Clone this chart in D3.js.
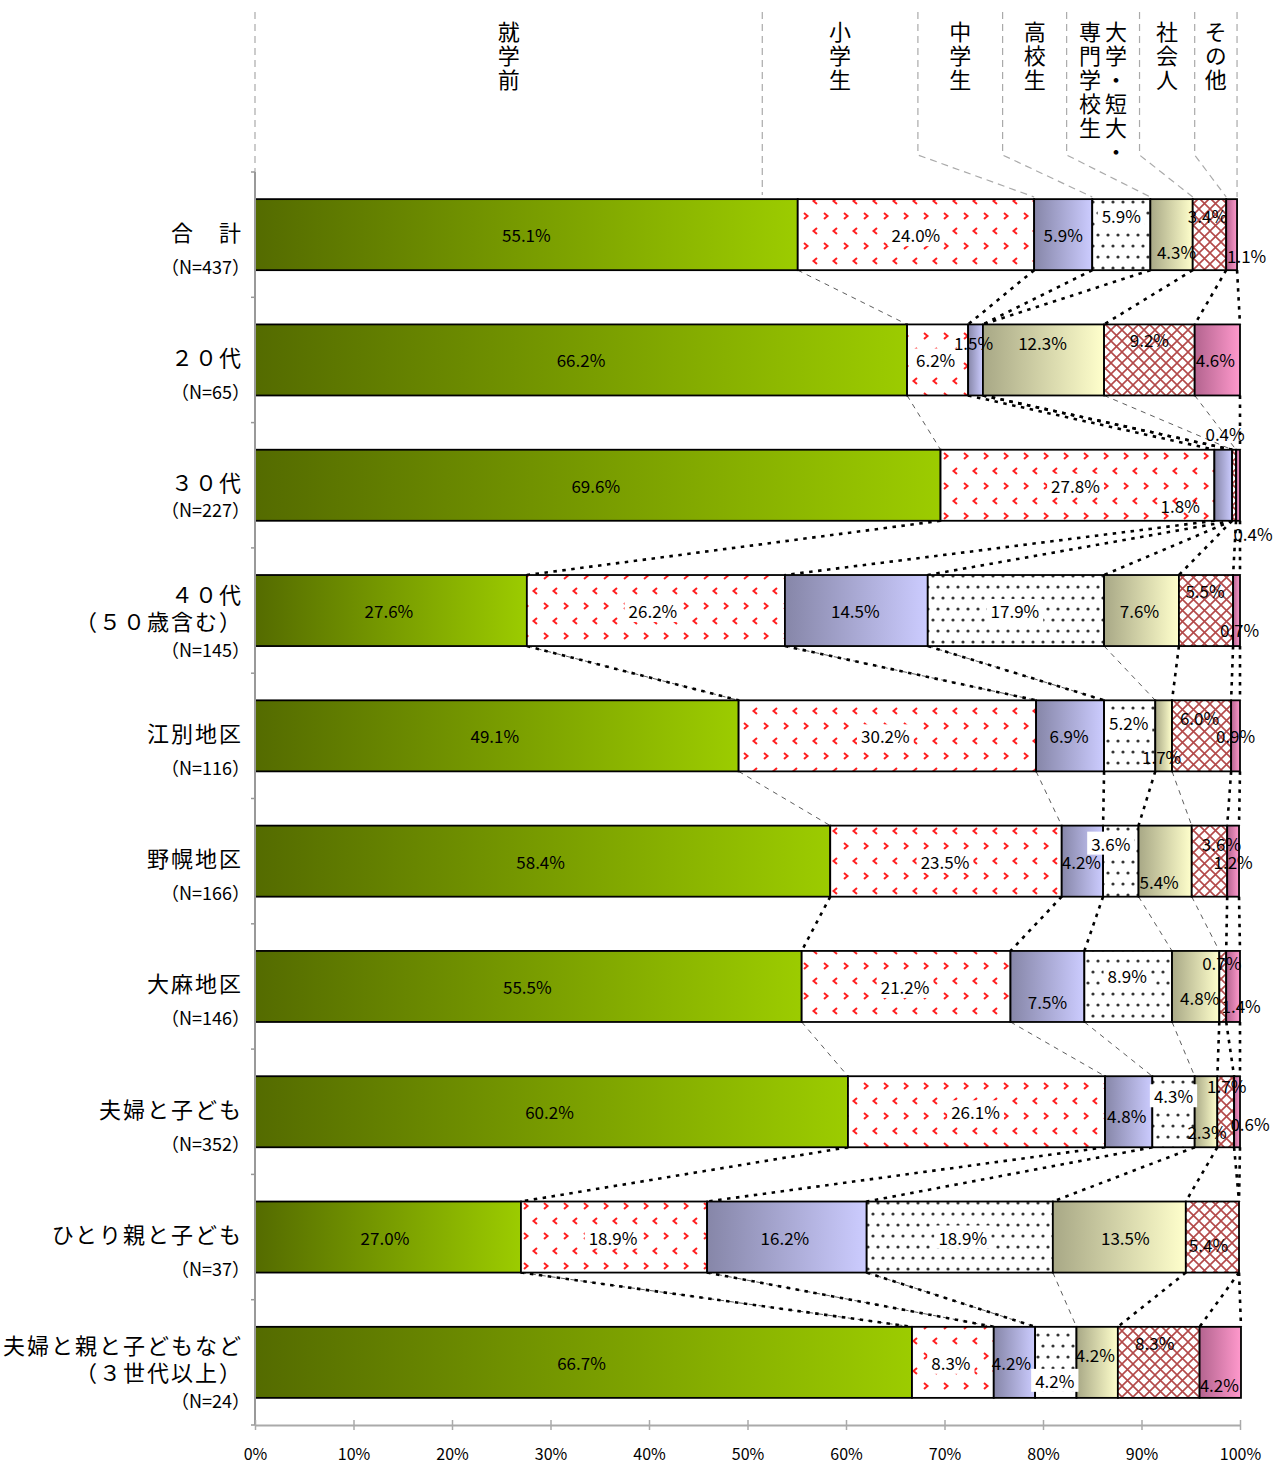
<!DOCTYPE html>
<html><head><meta charset="utf-8">
<script src="https://cdn.jsdelivr.net/npm/d3@7"></script>
<style>
body{margin:0;background:#fff;}
text{font-family:"Noto Sans CJK JP","Noto Sans",sans-serif;fill:#000;}
</style>
</head><body>
<svg id="chart" width="1278" height="1466"></svg>
<script>
// ---------- data ----------
const seriesNames = ["就学前","小学生","中学生","高校生","大学・短大・専門学校生","社会人","その他"];
const categories = ["合計","20代","30代","40代","江別地区","野幌地区","大麻地区","夫婦と子ども","ひとり親と子ども","夫婦と親と子どもなど"];
const categoryLabelLines = [
  ["合　計"],["２０代"],["３０代"],["４０代","（５０歳含む）"],["江別地区"],["野幌地区"],
  ["大麻地区"],["夫婦と子ども"],["ひとり親と子ども"],["夫婦と親と子どもなど","（３世代以上）"]
];
const sampleSizes = [437,65,227,145,116,166,146,352,37,24];

const preschool  = [55.1,66.2,69.6,27.6,49.1,58.4,55.5,60.2,27.0,66.7];
const elementary = [24.0, 6.2,27.8,26.2,30.2,23.5,21.2,26.1,18.9, 8.3];
const juniorHigh = [ 5.9, 1.5, 1.8,14.5, 6.9, 4.2, 7.5, 4.8,16.2, 4.2];
const highSchool = [ 5.9, 0.0, 0.0,17.9, 5.2, 3.6, 8.9, 4.3,18.9, 4.2];
const university = [ 4.3,12.3, 0.0, 7.6, 1.7, 5.4, 4.8, 2.3,13.5, 4.2];
const working    = [ 3.4, 9.2, 0.4, 5.5, 6.0, 3.6, 0.7, 1.7, 5.4, 8.3];
const other      = [ 1.1, 4.6, 0.4, 0.7, 0.9, 1.2, 1.4, 0.6, 0.0, 4.2];
const seriesValues = [preschool, elementary, juniorHigh, highSchool, university, working, other];

const xTickValues = [0,10,20,30,40,50,60,70,80,90,100];
// header column boundaries (percent of axis) at top of chart
const headerBounds = [0,51.5,67.3,75.9,82.4,89.8,95.4,99.7];

// ---------- layout / style (not data) ----------
const labelNudge = [
 [[0,0],[0,0],[0,0],[0,-19],[5,17],[-2,-19],[15,21]],
 [[0,0],[-2,0],[-2,-17],[0,0],[-1,-17],[0,-20],[-2,0]],
 [[-2,0],[-2,0],[-43,20],[0,0],[0,0],[-9,-52],[15,48]],
 [[-2,0],[-3,0],[-1,0],[-1,0],[-2,0],[-1,-20],[3,19]],
 [[-2,0],[-2,0],[-1,0],[-1,-13],[-2,21],[-2,-18],[0,0]],
 [[-2,0],[-1,0],[-1,0],[-10,-18],[-6,20],[12,-18],[0,0]],
 [[-1,0],[-1,0],[0,15],[-1,-11],[4,11],[-1,-24],[8,19]],
 [[-2,0],[-1,0],[-2,4],[0,-16],[1,20],[1,-26],[13,12]],
 [[-3,0],[-1,0],[-2,0],[3,0],[6,0],[-4,7],[0,0]],
 [[-2,0],[-2,0],[-3,0],[-1,18],[-2,-8],[-4,-20],[-1,22]]
];
const seriesLineStyle = ["tdddddd","tdddttd","ddddddd","mmmtddd","ttddtdd","dddttdd","ttttddd","ddddddd","mmmtddd"];
const fills = ["url(#gGreen)","url(#pChevron)","url(#gPurple)","url(#pDots)","url(#gYellow)","url(#pCross)","url(#gPink)"];
const labelBox = [false,true,false,true,false,false,false];

const svg = d3.select("#chart");
const defs = svg.append("defs");
function grad(id, c0, c1){
  const g = defs.append("linearGradient").attr("id",id).attr("x1","0%").attr("x2","100%").attr("y1","0%").attr("y2","0%");
  g.append("stop").attr("offset","0%").attr("stop-color",c0);
  g.append("stop").attr("offset","100%").attr("stop-color",c1);
}
grad("gGreen","#546b00","#9ccc00");
grad("gPurple","#8686a8","#ccccff");
grad("gYellow","#a8a886","#ffffcc");
grad("gPink","#b3648f","#ff99cc");

// chevron pattern
const pc = defs.append("pattern").attr("id","pChevron").attr("patternUnits","userSpaceOnUse").attr("width",20).attr("height",30);
pc.append("rect").attr("width",20).attr("height",30).attr("fill","#fff");
pc.append("polyline").attr("points","4,3 7.5,6 4,9").attr("fill","none").attr("stroke","#ff2020").attr("stroke-width",2);
pc.append("polyline").attr("points","17,18 13.5,21 17,24").attr("fill","none").attr("stroke","#ff2020").attr("stroke-width",2);
// dots pattern
const pd = defs.append("pattern").attr("id","pDots").attr("patternUnits","userSpaceOnUse").attr("width",10).attr("height",22);
pd.append("rect").attr("width",10).attr("height",22).attr("fill","#fff");
pd.append("circle").attr("cx",3).attr("cy",4).attr("r",1.6).attr("fill","#333");
pd.append("circle").attr("cx",8).attr("cy",15).attr("r",1.6).attr("fill","#333");
// crosshatch pattern
const px = defs.append("pattern").attr("id","pCross").attr("patternUnits","userSpaceOnUse").attr("width",11).attr("height",11);
px.append("rect").attr("width",11).attr("height",11).attr("fill","#fff");
px.append("path").attr("d","M0,0L11,11M11,0L0,11").attr("stroke","#b34a4a").attr("stroke-width",1.6);

// ---------- scales ----------
const x = d3.scaleLinear().domain([0,100]).range([255,1240]);
const y = d3.scaleBand().domain(categories).range([172,1425]).paddingInner(0.433).paddingOuter(0.2165);
const bw = y.bandwidth();

// cumulative
const rows = categories.map((c,i)=>{
  let acc = 0;
  const segs = seriesValues.map((s,k)=>{ const x0 = acc; acc += s[i]; return {k, v:s[i], x0, x1:acc}; });
  return {cat:c, i, segs};
});

// ---------- header ----------
const hdr = svg.append("g");
headerBounds.forEach((b,i)=>{
  const hx = x(b);
  let pts;
  if(i===0) pts = [[hx,12],[hx,172]];
  else if(i===1) pts = [[hx,12],[hx,195]];
  else pts = [[hx,12],[hx,155],[x(rows[0].segs[i-1].x1),197]];
  hdr.append("path").attr("d",d3.line()(pts)).attr("fill","none")
    .attr("stroke","#aaa").attr("stroke-width",1.2).attr("stroke-dasharray","7,5");
});
seriesNames.forEach((name,k)=>{
  const cx = (x(headerBounds[k]) + x(k+1<headerBounds.length?headerBounds[k+1]:100))/2;
  const chunks = [];
  for(let p=0;p<name.length;p+=6) chunks.push(name.slice(p,p+6));
  const colW = 26;
  chunks.forEach((ch,ci)=>{
    const colX = cx + ((chunks.length-1)/2 - ci)*colW;
    hdr.append("text").attr("x",colX).attr("y",21)
      .style("writing-mode","vertical-rl").style("font-size","22px").style("letter-spacing","2px")
      .text(ch);
  });
});

// ---------- series lines ----------
const sl = svg.append("g");
for(let i=0;i<rows.length-1;i++){
  for(let k=0;k<7;k++){
    const x1 = x(rows[i].segs[k].x1), y1 = y(rows[i].cat)+bw;
    const x2 = x(rows[i+1].segs[k].x1), y2 = y(rows[i+1].cat);
    const st = seriesLineStyle[i][k];
    if(st==="t"||st==="m"){
      sl.append("line").attr("x1",x1).attr("y1",y1).attr("x2",x2).attr("y2",y2)
        .attr("stroke","#333").attr("stroke-width",0.8).attr("stroke-dasharray","5,5");
    }
    if(st==="d"||st==="m"){
      sl.append("line").attr("x1",x1).attr("y1",y1).attr("x2",x2).attr("y2",y2)
        .attr("stroke","#000").attr("stroke-width",2.6).attr("stroke-dasharray","3.5,5.5");
    }
  }
}

// ---------- bars ----------
const barG = svg.append("g");
rows.forEach(r=>{
  const g = barG.append("g");
  g.selectAll("rect").data(r.segs.filter(s=>s.v>0)).join("rect")
    .attr("x",s=>x(s.x0)).attr("y",y(r.cat)).attr("width",s=>x(s.x1)-x(s.x0)).attr("height",bw)
    .attr("fill",s=>fills[s.k]).attr("stroke","#000").attr("stroke-width",1.8);
});

// ---------- value labels ----------
const lab = svg.append("g");
rows.forEach(r=>{
  r.segs.filter(s=>s.v>0).forEach(s=>{
    const nd = labelNudge[r.i][s.k];
    const lx = x((s.x0+s.x1)/2)+nd[0];
    const ly = y(r.cat)+bw/2+nd[1];
    const txt = s.v.toFixed(1)+"%";
    const t = lab.append("text").attr("x",lx).attr("y",ly).attr("text-anchor","middle")
      .attr("dominant-baseline","central").style("font-size","17px").text(txt);
    if(labelBox[s.k]){
      const bb = t.node().getBBox();
      lab.insert("rect",()=>t.node()).attr("x",bb.x-4).attr("y",bb.y+1).attr("width",bb.width+8).attr("height",bb.height-2).attr("fill","#fff");
    }
  });
});

// ---------- axes ----------
const axG = svg.append("g");
axG.append("line").attr("x1",255).attr("x2",255).attr("y1",172).attr("y2",1425).attr("stroke","#999").attr("stroke-width",2);
d3.range(categories.length+1).forEach(i=>{
  const yy = 172 + i*y.step();
  axG.append("line").attr("x1",251).attr("x2",255).attr("y1",yy).attr("y2",yy).attr("stroke","#999").attr("stroke-width",1.5);
});
const xAxis = d3.axisBottom(x).tickValues(xTickValues).tickFormat(d=>d+"%").tickSize(0).tickPadding(24);
const xg = svg.append("g").attr("transform","translate(0,1425)").call(xAxis);
xg.select(".domain").attr("stroke","#aaa").attr("stroke-width",2);
xg.selectAll(".tick text").style("font-size","16px").attr("fill","#000").style("font-family","'Noto Sans CJK JP',sans-serif");
xg.selectAll(".tick").append("line").attr("y1",-5).attr("y2",5).attr("stroke","#aaa").attr("stroke-width",1.5);

// ---------- category labels ----------
const cl = svg.append("g");
rows.forEach(r=>{
  const lines = categoryLabelLines[r.i];
  const cy = y(r.cat)+bw/2;
  const offs = lines.length===1 ? [-4] : [-18,9];
  lines.forEach((ln,j)=>{
    cl.append("text").attr("x",243).attr("y",cy+offs[j]).attr("text-anchor","end")
      .attr("dominant-baseline","central").style("font-size","22px").style("letter-spacing","2px").text(ln);
  });
  const nOff = lines.length===1 ? (r.i===2 ? 24 : 31) : 38;
  cl.append("text").attr("x",250).attr("y",cy+nOff).attr("text-anchor","end")
    .attr("dominant-baseline","central").style("font-size","18px").text("（N="+sampleSizes[r.i]+"）");
});
</script>
</body></html>
